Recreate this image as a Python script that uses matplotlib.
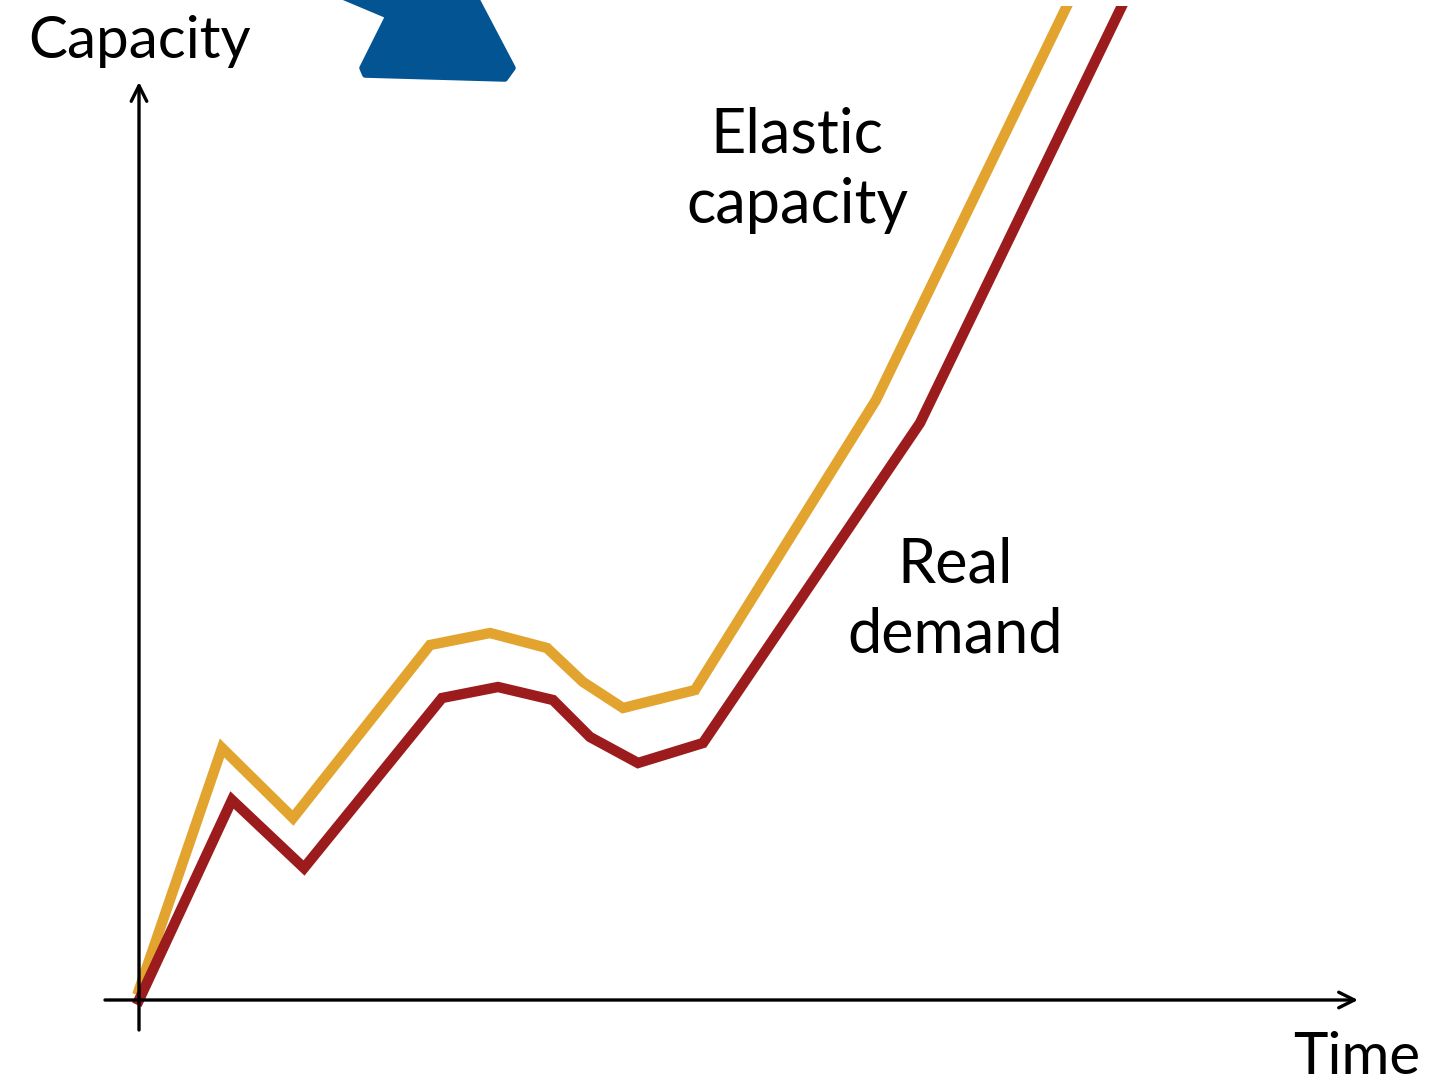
import matplotlib.pyplot as plt
from matplotlib.patches import Polygon

# time / capacity samples for the two curves
demand_t = [0, 93, 165, 303, 359, 414, 451, 499, 564, 781, 1010]
demand_c = [0, 200, 132, 302, 313, 300, 263, 237, 257, 577, 1050]

elastic_t = [0, 83, 154, 291, 351, 408, 444, 484, 556, 737, 955]
elastic_c = [10, 252, 182, 355, 367, 352, 318, 292, 310, 600, 1050]

YELLOW = "#E2A42E"
RED = "#9C1B1C"
BLUE = "#035493"
FONT = ["Lato", "DejaVu Sans"]


def draw_axes(ax):
    arrow = dict(arrowstyle="->", lw=2.4, color="black", mutation_scale=28,
                 shrinkA=0, shrinkB=0)
    ax.annotate("", xy=(1219, 0), xytext=(-34, 0), arrowprops=arrow)
    ax.annotate("", xy=(0, 918), xytext=(0, -30), arrowprops=arrow)


fig = plt.figure(figsize=(14.3, 10.86), dpi=100)
# leave a thin strip at the top so the rising lines stop short of the edge
ax = fig.add_axes([0, 0, 1, 1 - 6 / 1086])
ax.set_xlim(-139, 1291)
ax.set_ylim(-86, 994)
ax.axis("off")

draw_axes(ax)

ax.plot(elastic_t, elastic_c, color=YELLOW, lw=7.5, solid_joinstyle="miter")
ax.plot(demand_t, demand_c, color=RED, lw=7.5, solid_joinstyle="miter")

# blue marker shape peeking in at the top
blob = Polygon([(192, 1008), (249, 984), (223, 932), (226, 925), (366, 921),
                (374, 932), (334, 1008)], closed=True, facecolor=BLUE,
               edgecolor=BLUE, lw=4, joinstyle="round", clip_on=False)
ax.add_patch(blob)

ax.text(1, 958, "Capacity", ha="center", va="center", fontsize=42, family=FONT)
ax.text(1218, -58, "Time", ha="center", va="center", fontsize=42, family=FONT)
ax.text(658, 830, "Elastic\ncapacity", ha="center", va="center", fontsize=44,
        family=FONT, linespacing=1.3)
ax.text(816, 400, "Real\ndemand", ha="center", va="center", fontsize=44,
        family=FONT, linespacing=1.3)

fig.savefig("out.png", dpi=100, facecolor="white")
